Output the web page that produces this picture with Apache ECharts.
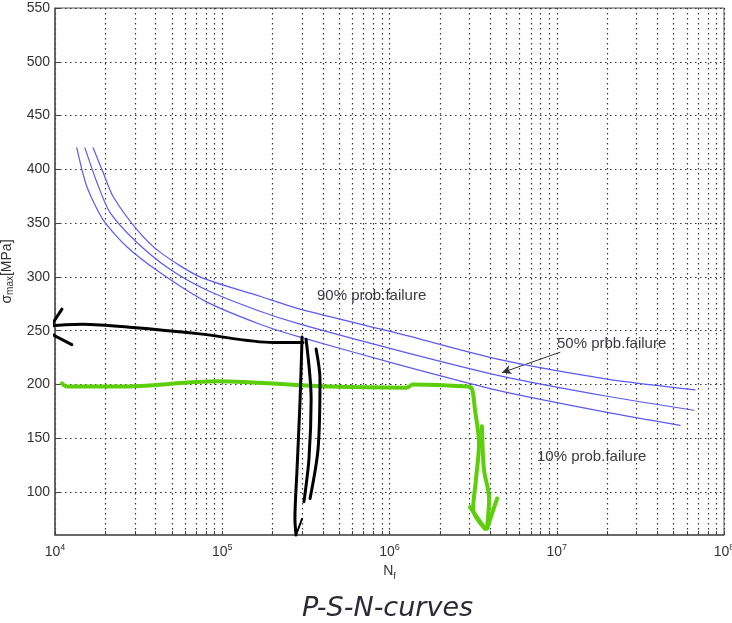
<!DOCTYPE html>
<html>
<head>
<meta charset="utf-8">
<script src="https://cdn.jsdelivr.net/npm/echarts@6/dist/echarts.min.js"></script>
<style>
  html, body { margin: 0; background: #fff; }
  #chart { width: 732px; height: 623px; }
</style>
</head>
<body>
<div id="chart"></div>
<script>
// axis ticks
const decades = [1e4, 1e5, 1e6, 1e7, 1e8];
const minorSteps = [2, 3, 4, 5, 6, 7, 8, 9];
const stressTicks = [100, 150, 200, 250, 300, 350, 400, 450, 500, 550];

// P-S-N curves  [cycles Nf, sigma_max MPa]
const curve90 = [
  [16900, 420], [19400, 397], [22200, 375], [30900, 344], [42400, 323],
  [73600, 300], [168000, 282], [292000, 270], [1.16e6, 247], [4.58e6, 223],
  [2.0e7, 205], [6.71e7, 195]
];
const curve50 = [
  [15100, 420], [17800, 388], [21300, 360], [30900, 332], [48700, 307],
  [80000, 288], [168000, 268], [292000, 256], [1.16e6, 231], [4.58e6, 208],
  [2.0e7, 189], [6.62e7, 176]
];
const curve10 = [
  [13500, 420], [15500, 384], [19400, 353], [26900, 328], [42400, 304],
  [80000, 277], [168000, 256], [292000, 244], [1.16e6, 218], [4.58e6, 194],
  [2.0e7, 174], [5.46e7, 162]
];

// hand-drawn black marks
const blackArrow = [
  [304000, 239], [201000, 239], [73600, 247], [29200, 253], [14700, 256],
  [9330, 254], [8960, 249]
];
const blackHeadUp = [[11000, 270], [8960, 249], [12600, 237]];
const blackDown1 = [[300000, 244], [292000, 186], [280000, 121], [272000, 75], [276000, 60]];
const blackDown2 = [[317000, 242], [340000, 186], [330000, 131], [308000, 91]];
const blackDown3 = [[364000, 233], [384000, 205], [374000, 140], [335000, 94]];
const blackTip = [[300000, 75], [276000, 60]];

// hand-drawn green marks
const greenMain = [
  [11000, 201], [11800, 198], [24500, 198], [93100, 203], [441000, 198],
  [1.27e6, 197], [1.38e6, 200], [2.91e6, 198], [3.11e6, 196], [3.24e6, 177],
  [3.43e6, 145], [3.29e6, 112], [3.16e6, 84], [3.72e6, 66]
];
const greenSecond = [[3.57e6, 161], [3.67e6, 121], [3.94e6, 94], [3.83e6, 66]];
const greenHeadR = [[4.40e6, 94], [3.83e6, 66]];
const greenHeadL = [[3.03e6, 86], [3.72e6, 66]];

// pointer for the 50% label
const pointer50 = [[1.05e7, 230], [4.71e6, 211]];

const gridLines = [];
decades.forEach((d, i) => {
  gridLines.push(d);
  if (i < decades.length - 1) minorSteps.forEach(k => gridLines.push(d * k));
});

const dotted = { color: '#333', width: 1.2, type: [1.5, 3.5] };
const font = 'Liberation Sans, Arial, sans-serif';

function stroke(data, color, width, smooth) {
  return {
    type: 'line', data, showSymbol: false, smooth: smooth, clip: false,
    lineStyle: { color, width, cap: 'round', join: 'round' }, z: 5, silent: true
  };
}

const chart = echarts.init(document.getElementById('chart'));
chart.setOption({
  animation: false,
  grid: { left: 55, right: 8, top: 8, bottom: 88, show: true, borderColor: '#555', borderWidth: 1, outerBoundsMode: 'none' },
  xAxis: {
    type: 'log', logBase: 10, min: 1e4, max: 1e8,
    name: '{a|N}{b|f}', nameLocation: 'middle', nameGap: 17,
    nameTextStyle: {
      rich: {
        a: { fontSize: 14, color: '#333', fontFamily: font },
        b: { fontSize: 9, color: '#333', fontFamily: font, verticalAlign: 'bottom', padding: [10, 0, 0, 0] }
      }
    },
    axisLine: { lineStyle: { color: '#555', width: 1.5 } },
    axisTick: { inside: true, length: 4, customValues: gridLines, lineStyle: { color: '#444' } },
    axisLabel: {
      customValues: decades, margin: 8,
      formatter: v => '{b|10}{e|' + Math.round(Math.log10(v)) + '}',
      rich: {
        b: { fontSize: 14, color: '#333', fontFamily: font },
        e: { fontSize: 9, color: '#333', fontFamily: font, verticalAlign: 'top', padding: [0, 0, 10, 0] }
      }
    },
    splitLine: { show: true, lineStyle: dotted },
    minorTick: { show: false }
  },
  yAxis: {
    type: 'value', min: 60, max: 550,
    name: '{a|σ}{b|max}{a|[MPa]}', nameLocation: 'middle', nameGap: 30, nameRotate: 90,
    nameTextStyle: {
      rich: {
        a: { fontSize: 14, color: '#333', fontFamily: font },
        b: { fontSize: 10, color: '#333', fontFamily: font, verticalAlign: 'bottom', padding: [8, 0, 0, 0] }
      }
    },
    axisLine: { show: true, lineStyle: { color: '#555', width: 1.5 } },
    axisTick: { show: true, inside: true, length: 6, customValues: stressTicks, lineStyle: { color: '#444' } },
    axisLabel: { customValues: stressTicks, fontSize: 14, color: '#333', fontFamily: font, margin: 5 },
    splitLine: { show: true, lineStyle: dotted }
  },
  series: [
    stroke(curve90, '#5b5bf2', 1.2, 0.25),
    stroke(curve50, '#5b5bf2', 1.2, 0.25),
    stroke(curve10, '#5b5bf2', 1.2, 0.25),
    {
      type: 'line', data: [], silent: true,
      markLine: {
        silent: true, symbol: ['none', 'arrow'], symbolSize: [7, 9],
        lineStyle: { color: '#333', width: 1, type: 'solid' }, label: { show: false },
        data: [[{ coord: pointer50[0] }, { coord: pointer50[1] }]]
      }
    },
    stroke(greenMain, '#5ccf0a', 4, 0.3),
    stroke(greenSecond, '#5ccf0a', 4, 0.3),
    stroke(greenHeadR, '#5ccf0a', 4, 0),
    stroke(greenHeadL, '#5ccf0a', 4, 0),
    stroke(blackArrow, '#000', 3, 0.3),
    stroke(blackHeadUp, '#000', 3, 0),
    stroke(blackDown1, '#000', 3, 0.3),
    stroke(blackDown2, '#000', 3, 0.3),
    stroke(blackDown3, '#000', 3, 0.3),
    stroke(blackTip, '#000', 2, 0)
  ],
  graphic: [
    { type: 'text', left: 317, top: 288, style: { text: '90% prob.failure', fontSize: 15, fill: '#3a3a44', fontFamily: font } },
    { type: 'text', left: 557, top: 336, style: { text: '50% prbb.failure', fontSize: 15, fill: '#3a3a44', fontFamily: font } },
    { type: 'text', left: 537, top: 449, style: { text: '10% prob.failure', fontSize: 15, fill: '#3a3a44', fontFamily: font } },
    { type: 'text', left: 302, top: 595, style: { text: 'P-S-N-curves', fontSize: 27, fontStyle: 'italic', fill: '#2b2b35', fontFamily: 'DejaVu Sans, sans-serif' } }
  ]
});
</script>
</body>
</html>
